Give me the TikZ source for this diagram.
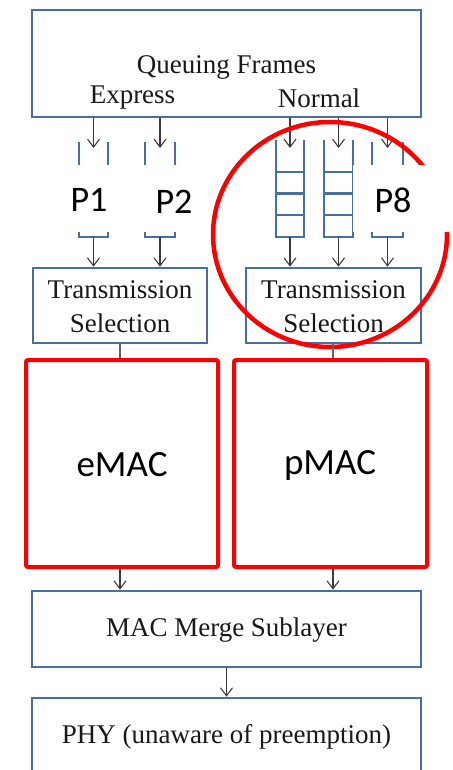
\documentclass[tikz,border=0pt]{standalone}
\usepackage{fontspec}
\setmainfont{Liberation Serif}
\newfontfamily\calib{Carlito}
\usetikzlibrary{arrows.meta}
\definecolor{boxblue}{RGB}{74,110,160}
\definecolor{arrgray}{RGB}{60,60,60}
\begin{document}
\begin{tikzpicture}[x=1pt,y=-1pt,
  blbox/.style={draw=boxblue, line width=2.6pt, fill=white, inner sep=0pt},
  qline/.style={draw=boxblue, line width=2.8pt},
  arr/.style={draw=arrgray, line width=1.1pt, -{Straight Barb[length=8pt,width=12pt,line width=1.1pt]}},
  gline/.style={draw=arrgray!80, line width=1.3pt},
  serif/.style={font=\fontsize{27}{34}\selectfont, text=black!90, inner sep=0pt, align=center},
  lab/.style={font=\calib\fontsize{36}{40}\selectfont, text=black, inner sep=0pt},
  redbox/.style={draw=red, line width=4pt, rounded corners=2pt, inner sep=0pt},
  whitebox/.style={fill=white, draw=none, inner sep=0pt}
]
\useasboundingbox (0,0) rectangle (452,770);
\clip (0,0) rectangle (452,770);

% top box
\node[blbox, minimum width=389pt, minimum height=107pt] (top) at (226.5,63.5) {};
\node[serif] (qf) at (226.5,67) {Queuing Frames};
\node[serif] (ex) at (132.5,98) {Express};
\node[serif] (no) at (319,98) {Normal};

% queue coordinates (top centre of each queue, arrow tips)
\coordinate (q1) at (93.5,148);
\coordinate (q2) at (160,148);
\coordinate (q3) at (290,148);
\coordinate (q4) at (338.5,148);
\coordinate (q5) at (387.5,148);
\coordinate (q1b) at (93.5,237);
\coordinate (q2b) at (160,237);
\coordinate (q3b) at (290,237);
\coordinate (q4b) at (338.5,237);
\coordinate (q5b) at (387.5,237);

% queues
\draw[qline] (79,142) |- (108,237) -- (108,142);
\draw[qline] (145,142) |- (175,237) -- (175,142);
\draw[qline] (276,140) |- (304,237) -- (304,140);
\draw[qline] (276,172) -- (304,172) (276,193.5) -- (304,193.5) (276,215) -- (304,215);
\draw[qline] (324,140) |- (353,237) -- (353,140);
\draw[qline] (324,172) -- (353,172) (324,193.5) -- (353,193.5) (324,215) -- (353,215);
\draw[qline] (372,142) |- (403,237) -- (403,142);

% arrows top -> queues
\foreach \q in {q1,q2,q3,q4,q5}
  \draw[arr] (top.south -| \q) -- (\q);

% transmission selection
\node[blbox, minimum width=174pt, minimum height=75pt] (ts1) at (120,305.5) {};
\node[blbox, minimum width=175pt, minimum height=75pt] (ts2) at (333.5,305.5) {};
\node[serif] (ts1t) at (120,307) {Transmission\\Selection};
\node[serif] (ts2t) at (333.5,307) {Transmission\\Selection};

\foreach \q in {q1b,q2b}
  \draw[arr] (\q) -- (ts1.north -| \q);
\foreach \q in {q3b,q4b,q5b}
  \draw[arr] (\q) -- (ts2.north -| \q);

% red circle
\draw[red, line width=4.5pt] (330,234.5) ellipse [x radius=117, y radius=112.5];

% label boxes
\node[whitebox, minimum width=140pt, minimum height=67pt] (w12) at (131,198.5) {};
\node[whitebox, minimum width=100pt, minimum height=67pt] (w8) at (402.5,198.5) {};
\node[lab] (p1) at (89,200) {P1};
\node[lab] (p2) at (174,201.5) {P2};
\node[lab] (p8) at (393,200) {P8};

% eMAC / pMAC
\node[redbox, minimum width=192pt, minimum height=207pt] (emac) at (122,463.5) {};
\node[redbox, minimum width=193pt, minimum height=207pt] (pmac) at (330.5,463.5) {};
\node[lab, font=\calib\fontsize{37}{40}\selectfont] (emt) at (122,465) {eMAC};
\node[lab, font=\calib\fontsize{37}{40}\selectfont] (pmt) at (330,465) {pMAC};

\draw[gline] (ts1.south) -- (ts1.south |- emac.north);
\draw[gline] (ts2.south -| 333,0) -- (emac.north -| 333,0);

% merge and phy
\node[blbox, minimum width=389pt, minimum height=76pt] (merge) at (226.5,629) {};
\node[serif] (mt) at (226.5,630) {MAC Merge Sublayer};
\node[blbox, minimum width=389pt, minimum height=102pt] (phy) at (226.5,749) {};
\node[serif] (pt) at (226.5,737) {PHY (unaware of preemption)};

\draw[arr] (emac.south -| ts1.south) -- (merge.north -| ts1.south);
\draw[arr] (pmac.south -| 333,0) -- (merge.north -| 333,0);
\draw[arr] (merge.south) -- (phy.north);
\end{tikzpicture}
\end{document}
